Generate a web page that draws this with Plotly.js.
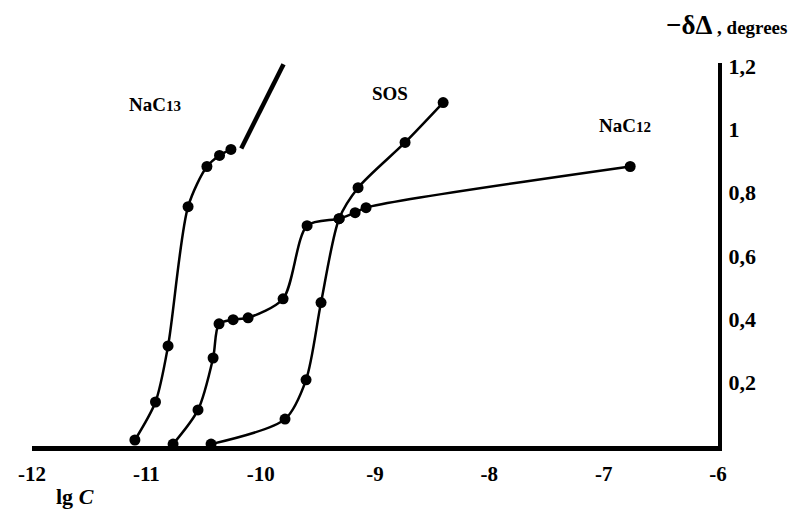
<!DOCTYPE html>
<html>
<head>
<meta charset="utf-8">
<script src="https://cdn.plot.ly/plotly-3.0.1.min.js"></script>
<style>html,body{margin:0;padding:0;background:#fff;}#chart{width:792px;height:510px;}</style>
</head>
<body>
<div id="chart"></div>
<script>
// Data (x = lg C, y = -δΔ, degrees)
var nac13X = [-11.10, -10.92, -10.81, -10.635, -10.47, -10.36, -10.26];
var nac13Y = [0.019, 0.139, 0.316, 0.756, 0.883, 0.918, 0.937];
var nac13ExtX = [-10.17, -9.80];
var nac13ExtY = [0.94, 1.206];

var nac12X = [-10.766, -10.548, -10.416, -10.364, -10.241, -10.110, -9.804, -9.594, -9.314, -9.174, -9.078, -6.768];
var nac12Y = [0.006, 0.114, 0.278, 0.386, 0.399, 0.405, 0.465, 0.696, 0.718, 0.737, 0.753, 0.883];

var sosX = [-10.434, -9.787, -9.603, -9.472, -9.314, -9.148, -8.737, -8.404];
var sosY = [0.006, 0.085, 0.209, 0.453, 0.718, 0.816, 0.959, 1.085];

var xTickVals = [-12, -11, -10, -9, -8, -7, -6];
var xTickText = ['-12', '-11', '-10', '-9', '-8', '-7', '-6'];
var yTickVals = [0.2, 0.4, 0.6, 0.8, 1.0, 1.2];
var yTickText = ['0,2', '0,4', '0,6', '0,8', '1', '1,2'];

var FONT = 'Liberation Serif, Times New Roman, serif';
var mk = {color: '#000', size: 11};
var ln = {color: '#000', width: 2.5, shape: 'spline', smoothing: 0.8};

var traces = [
  {x: nac13X, y: nac13Y, mode: 'lines+markers', marker: mk, line: ln, cliponaxis: false},
  {x: nac13ExtX, y: nac13ExtY, mode: 'lines', line: {color: '#000', width: 4.5}, cliponaxis: false},
  {x: nac12X, y: nac12Y, mode: 'lines+markers', marker: mk, line: ln, cliponaxis: false},
  {x: sosX, y: sosY, mode: 'lines+markers', marker: mk, line: ln, cliponaxis: false}
];

var layout = {
  width: 792, height: 510,
  margin: {l: 32, r: 74, t: 63, b: 64},
  paper_bgcolor: '#fff', plot_bgcolor: '#fff',
  showlegend: false,
  font: {family: FONT, color: '#000'},
  xaxis: {
    range: [-12, -6], tickvals: xTickVals, ticktext: xTickText,
    showgrid: false, zeroline: false, showline: true, linecolor: '#000', linewidth: 5,
    ticks: '', ticklabelstandoff: 5,
    tickfont: {family: FONT, size: 21, color: '#000', weight: 'bold'}
  },
  yaxis: {
    range: [0, 1.21], side: 'right', tickvals: yTickVals, ticktext: yTickText,
    showgrid: false, zeroline: false, showline: true, linecolor: '#000', linewidth: 4,
    ticks: '', ticklabelstandoff: 2,
    tickfont: {family: FONT, size: 22, color: '#000', weight: 'bold'}
  },
  annotations: [
    {x: -10.928, y: 1.08, xref: 'x', yref: 'y', xanchor: 'center', yanchor: 'middle', text: '<b>NaC<span style="font-size:15px">13</span></b>', showarrow: false, font: {family: FONT, size: 19}},
    {x: -8.868, y: 1.115, xref: 'x', yref: 'y', xanchor: 'center', yanchor: 'middle', text: '<b>SOS</b>', showarrow: false, font: {family: FONT, size: 19}},
    {x: -6.816, y: 1.014, xref: 'x', yref: 'y', xanchor: 'center', yanchor: 'middle', text: '<b>NaC<span style="font-size:15px">12</span></b>', showarrow: false, font: {family: FONT, size: 19}},
    {x: 0.063, y: -0.133, xref: 'paper', yref: 'paper', xanchor: 'center', yanchor: 'middle', text: '<b>lg <i>C</i></b>', showarrow: false, font: {family: FONT, size: 22}},
    {x: 1.012, y: 1.099, xref: 'paper', yref: 'paper', xanchor: 'center', yanchor: 'middle', text: '<b><span style="font-size:27px">\u2212\u03b4\u0394</span> , degrees</b>', showarrow: false, font: {family: FONT, size: 19}}
  ]
};

Plotly.newPlot('chart', traces, layout, {displayModeBar: false, staticPlot: true});
</script>
</body>
</html>
